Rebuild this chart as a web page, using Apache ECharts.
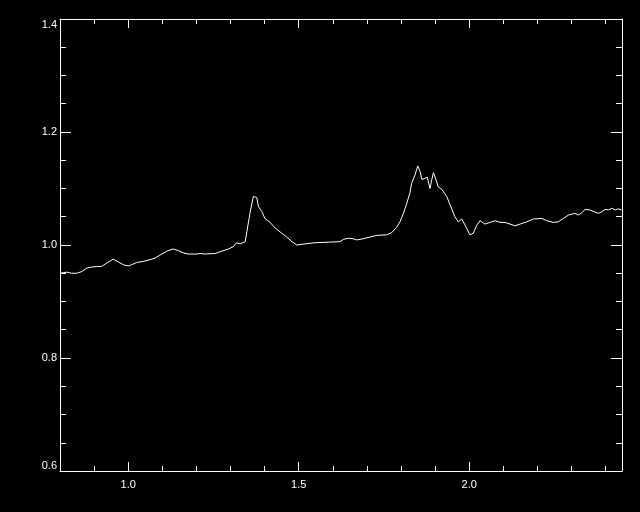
<!DOCTYPE html>
<html>
<head>
<meta charset="utf-8">
<script src="https://cdn.jsdelivr.net/npm/echarts@6/dist/echarts.min.js"></script>
<style>html,body{margin:0;padding:0;background:#000;}#c{width:640px;height:512px;}</style>
</head>
<body>
<div id="c"></div>
<script>
const xValues = [0.800,0.820,0.834,0.849,0.864,0.878,0.893,0.908,0.922,0.937,0.956,0.971,0.986,1.000,1.010,1.025,1.044,1.064,1.079,1.093,1.113,1.132,1.147,1.162,1.176,1.201,1.211,1.225,1.255,1.274,1.294,1.308,1.318,1.328,1.333,1.343,1.348,1.357,1.367,1.372,1.377,1.382,1.392,1.401,1.416,1.431,1.450,1.465,1.480,1.494,1.519,1.548,1.587,1.621,1.631,1.646,1.660,1.670,1.689,1.709,1.729,1.758,1.773,1.787,1.797,1.807,1.817,1.826,1.831,1.841,1.849,1.856,1.861,1.870,1.877,1.885,1.890,1.895,1.903,1.909,1.919,1.934,1.944,1.958,1.968,1.978,1.988,2.002,2.012,2.022,2.032,2.046,2.061,2.076,2.090,2.105,2.120,2.134,2.149,2.169,2.188,2.213,2.227,2.247,2.261,2.276,2.291,2.310,2.320,2.330,2.340,2.354,2.369,2.379,2.389,2.398,2.408,2.418,2.428,2.437,2.447];
const yValues = [0.950,0.952,0.950,0.950,0.953,0.959,0.961,0.962,0.962,0.968,0.975,0.970,0.965,0.963,0.965,0.969,0.971,0.974,0.977,0.982,0.989,0.993,0.990,0.986,0.984,0.984,0.985,0.984,0.985,0.989,0.993,0.997,1.004,1.002,0.999,1.006,1.024,1.056,1.086,1.089,1.084,1.068,1.059,1.047,1.040,1.030,1.021,1.014,1.006,1.000,1.002,1.004,1.005,1.006,1.010,1.012,1.011,1.009,1.011,1.014,1.017,1.018,1.022,1.031,1.041,1.056,1.074,1.092,1.109,1.124,1.140,1.130,1.116,1.118,1.120,1.100,1.115,1.128,1.115,1.103,1.099,1.086,1.071,1.050,1.041,1.046,1.035,1.018,1.021,1.035,1.043,1.037,1.040,1.043,1.040,1.040,1.037,1.034,1.037,1.041,1.046,1.047,1.043,1.040,1.041,1.047,1.053,1.056,1.053,1.057,1.063,1.062,1.058,1.056,1.059,1.063,1.062,1.065,1.062,1.064,1.062];
const xMajorTicks = [1.0, 1.5, 2.0];
const yTickLabels = [0.6, 0.8, 1.0, 1.2, 1.4];

const data = xValues.map((x, i) => [x, yValues[i]]);
const font = 'Liberation Sans';
const white = '#ffffff';
const lineStyle = { color: white, width: 1 };

const chart = echarts.init(document.getElementById('c'), null, { renderer: 'canvas' });

function xMinorAxis(pos) {
  return {
    type: 'value', position: pos, min: 0.8, max: 2.448, interval: 0.1,
    axisLine: { show: true, lineStyle: lineStyle, onZero: false },
    axisTick: { show: true, inside: true, length: 5, lineStyle: lineStyle },
    axisLabel: { show: false }, splitLine: { show: false }
  };
}
function xMajorAxis(pos, labels) {
  return {
    type: 'value', position: pos, min: 0.8, max: 2.448,
    axisLine: { show: false, onZero: false },
    axisTick: { show: true, inside: true, length: 9, lineStyle: lineStyle, customValues: xMajorTicks },
    axisLabel: { show: labels, customValues: xMajorTicks, color: white, fontFamily: font, fontSize: 11, margin: 8,
      formatter: v => v.toFixed(1) },
    splitLine: { show: false }
  };
}
function yAxis(pos, labels) {
  return {
    type: 'value', position: pos, min: 0.6, max: 1.4, interval: 0.2,
    axisLine: { show: true, lineStyle: lineStyle, onZero: false },
    axisTick: { show: true, inside: true, length: 11, lineStyle: lineStyle },
    minorTick: { show: true, splitNumber: 4, length: 6, lineStyle: lineStyle },
    axisLabel: { show: labels, color: white, fontFamily: font, fontSize: 11, margin: 3,
      verticalAlignMinLabel: 'bottom', verticalAlignMaxLabel: 'top',
      formatter: v => v.toFixed(1) },
    splitLine: { show: false }, minorSplitLine: { show: false }
  };
}

chart.setOption({
  backgroundColor: '#000000',
  animation: false,
  grid: { left: 60, right: 18, top: 19, bottom: 41, containLabel: false },
  xAxis: [xMinorAxis('bottom'), xMajorAxis('bottom', true), xMinorAxis('top'), xMajorAxis('top', false)],
  yAxis: [yAxis('left', true), yAxis('right', false)],
  series: [{
    type: 'line', xAxisIndex: 0, yAxisIndex: 0, data: data,
    showSymbol: false, symbol: 'none', smooth: false,
    lineStyle: { color: white, width: 1 }
  }]
});
</script>
</body>
</html>
